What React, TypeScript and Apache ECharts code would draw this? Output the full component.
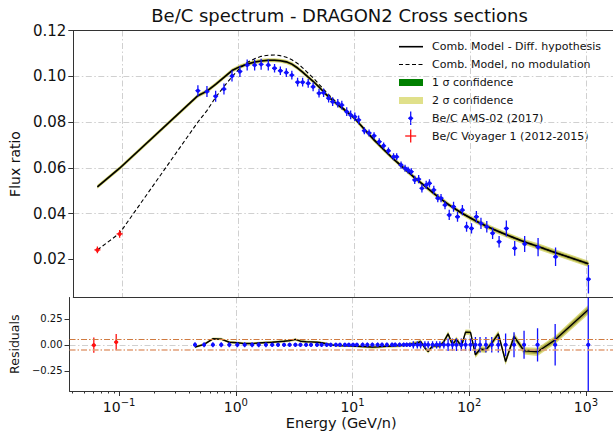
import React, { useEffect, useRef } from 'react';
import * as echarts from 'echarts';

const FONT = 'DejaVu Sans';
const TEXT = '#111111';
const SPINE = '#333333';
const GRID_LINE = '#d0d0d0';
const DASH_DOT = [6, 2.5, 1.5, 2.5];

const TITLE = 'Be/C spectrum - DRAGON2 Cross sections';
const X_NAME = 'Energy (GeV/n)';
const Y_NAME = 'Flux ratio';
const RES_NAME = 'Residuals';

// axis ranges
const ENERGY_RANGE = [0.0376, 1706];
const FLUX_RANGE = [0.0033, 0.12];
const RES_RANGE = [-0.444, 0.455];
const FLUX_TICKS = [0.02, 0.04, 0.06, 0.08, 0.1, 0.12];
const RES_TICKS = [-0.25, 0, 0.25];
const DECADE_EXPONENTS = [-1, 0, 1, 2, 3];
const RES_LIMITS = [0.05, -0.05];

// model curves
const modelE = [0.0607, 0.0944, 0.447, 0.535, 0.636, 0.75, 0.88, 1.03, 1.19, 1.38, 1.57, 1.81, 2.05, 2.3, 2.59, 2.89, 3.24, 3.58, 4.0, 4.41, 4.96, 5.43, 6.0, 7.2, 8.6, 10.1, 12.2, 14.8, 17.9, 21.8, 27.4, 33.2, 41.7, 52.5, 65.9, 85.6, 113, 156, 205, 295, 385, 545, 1047];
const modelDiff = [0.0517, 0.0598, 0.0915, 0.0935, 0.0965, 0.0995, 0.1025, 0.1042, 0.1053, 0.1062, 0.1067, 0.107, 0.107, 0.1068, 0.1063, 0.1053, 0.1036, 0.1018, 0.0996, 0.0978, 0.0953, 0.0932, 0.091, 0.0875, 0.0845, 0.0815, 0.0768, 0.0722, 0.068, 0.0638, 0.0594, 0.0556, 0.0515, 0.0474, 0.0437, 0.04, 0.0366, 0.0332, 0.0307, 0.0276, 0.0256, 0.0229, 0.018];
const modelNoMod = [0.0241, 0.0314, 0.08, 0.085, 0.0908, 0.0955, 0.0998, 0.1035, 0.106, 0.1077, 0.1087, 0.1092, 0.1093, 0.109, 0.1083, 0.1072, 0.1056, 0.1037, 0.1013, 0.0993, 0.0965, 0.0943, 0.092, 0.088, 0.0848, 0.0817, 0.0769, 0.0722, 0.068, 0.0638, 0.0594, 0.0556, 0.0515, 0.0474, 0.0437, 0.04, 0.0366, 0.0332, 0.0307, 0.0276, 0.0256, 0.0229, 0.018];
const modelSigma1 = [0.0005, 0.0005, 0.0005, 0.0005, 0.0005, 0.0005, 0.0005, 0.0005, 0.0005, 0.0005, 0.0005, 0.0005, 0.0005, 0.0005, 0.0005, 0.0005, 0.0005, 0.0005, 0.0005, 0.0005, 0.0005, 0.0005, 0.0005, 0.0005, 0.0005, 0.0005, 0.00055, 0.00055, 0.00055, 0.00055, 0.00055, 0.00055, 0.00055, 0.00055, 0.00055, 0.00055, 0.00065, 0.00065, 0.00065, 0.00065, 0.0008, 0.0008, 0.0008];
const modelSigma2 = [0.0009, 0.0009, 0.0009, 0.0009, 0.0009, 0.0009, 0.0009, 0.0009, 0.0009, 0.0009, 0.0009, 0.0009, 0.0009, 0.0009, 0.0009, 0.0009, 0.0009, 0.0009, 0.0009, 0.0009, 0.0009, 0.0009, 0.0009, 0.0009, 0.0009, 0.0009, 0.001, 0.001, 0.001, 0.001, 0.001, 0.001, 0.001, 0.001, 0.001, 0.001, 0.0012, 0.0012, 0.0012, 0.0012, 0.0014, 0.0014, 0.0014];

// AMS-02 data
const amsE = [0.447, 0.535, 0.636, 0.75, 0.88, 1.03, 1.19, 1.38, 1.57, 1.81, 2.05, 2.3, 2.59, 2.89, 3.24, 3.58, 4.0, 4.41, 4.96, 5.43, 6.0, 6.5, 7.2, 7.8, 8.6, 9.3, 10.1, 10.9, 12.2, 13.4, 14.8, 16.4, 17.9, 19.7, 21.8, 23.2, 25.3, 27.4, 29.1, 31.0, 33.2, 35.9, 38.3, 41.7, 44.5, 48.5, 52.5, 56, 60.6, 65.9, 71.8, 77.7, 85.6, 93, 102.6, 113, 123.8, 139, 156, 177.5, 205, 242, 295, 385, 545, 1047];
const amsRatio = [0.0937, 0.0933, 0.0913, 0.0944, 0.1001, 0.1021, 0.1049, 0.1049, 0.1052, 0.1049, 0.1035, 0.1024, 0.1016, 0.1005, 0.0974, 0.0974, 0.0969, 0.0954, 0.0926, 0.0928, 0.0904, 0.0889, 0.0882, 0.0874, 0.0845, 0.0831, 0.0823, 0.0809, 0.0762, 0.0752, 0.074, 0.0714, 0.0696, 0.0674, 0.0648, 0.0648, 0.0612, 0.0598, 0.059, 0.0583, 0.0547, 0.055, 0.051, 0.0525, 0.0532, 0.0503, 0.0467, 0.0467, 0.0437, 0.0394, 0.043, 0.0386, 0.0415, 0.0342, 0.0335, 0.0386, 0.0357, 0.0342, 0.0314, 0.0277, 0.0335, 0.0248, 0.0267, 0.0253, 0.0211, 0.0113];
const amsErr = [0.0024, 0.0024, 0.0024, 0.0024, 0.0024, 0.0024, 0.0024, 0.0024, 0.0024, 0.0024, 0.0019, 0.0019, 0.0019, 0.0019, 0.0019, 0.0019, 0.0019, 0.0019, 0.0019, 0.0019, 0.0019, 0.0019, 0.0019, 0.0019, 0.0019, 0.0019, 0.0019, 0.0019, 0.0015, 0.0015, 0.0015, 0.0015, 0.0015, 0.0015, 0.0015, 0.0015, 0.0015, 0.0015, 0.0015, 0.0015, 0.0018, 0.0018, 0.0018, 0.0018, 0.0018, 0.0018, 0.0018, 0.0018, 0.0018, 0.0022, 0.0022, 0.0022, 0.0022, 0.0022, 0.0022, 0.0025, 0.0025, 0.0025, 0.0025, 0.0025, 0.0035, 0.0032, 0.0035, 0.004, 0.004, 0.0062];
const amsResidualErr = [0.024, 0.024, 0.024, 0.024, 0.024, 0.024, 0.024, 0.024, 0.024, 0.024, 0.02, 0.02, 0.02, 0.02, 0.02, 0.02, 0.02, 0.02, 0.02, 0.02, 0.02, 0.02, 0.02, 0.02, 0.02, 0.02, 0.02, 0.02, 0.022, 0.022, 0.022, 0.022, 0.022, 0.022, 0.022, 0.022, 0.022, 0.022, 0.022, 0.022, 0.035, 0.035, 0.035, 0.035, 0.035, 0.035, 0.035, 0.035, 0.035, 0.06, 0.06, 0.06, 0.06, 0.06, 0.06, 0.075, 0.075, 0.075, 0.075, 0.075, 0.11, 0.12, 0.135, 0.16, 0.2, 0.55];
const modelResidual = [-0.022, 0.005, 0.058, 0.055, 0.025, 0.02, 0.012, 0.012, 0.018, 0.022, 0.025, 0.03, 0.035, 0.04, 0.052, 0.035, 0.03, 0.028, 0.025, 0.02, 0.01, 0.0, -0.005, -0.008, -0.01, -0.01, -0.012, -0.014, -0.016, -0.018, -0.022, -0.02, -0.016, -0.014, -0.012, -0.01, -0.008, -0.004, 0.0, 0.006, 0.012, 0.016, 0.032, -0.03, -0.064, -0.01, -0.01, -0.01, 0.03, 0.106, 0.0, 0.054, -0.016, 0.122, 0.12, -0.096, -0.042, -0.048, 0.016, 0.106, -0.16, 0.08, -0.058, -0.067, 0.048, 0.337];
const resSigma1 = [0.006, 0.006, 0.006, 0.006, 0.006, 0.006, 0.006, 0.006, 0.006, 0.006, 0.006, 0.006, 0.006, 0.006, 0.006, 0.006, 0.006, 0.006, 0.006, 0.006, 0.006, 0.006, 0.006, 0.006, 0.006, 0.006, 0.006, 0.006, 0.008, 0.008, 0.008, 0.008, 0.008, 0.008, 0.008, 0.008, 0.008, 0.008, 0.008, 0.008, 0.011, 0.011, 0.011, 0.011, 0.011, 0.011, 0.011, 0.011, 0.011, 0.014, 0.014, 0.014, 0.014, 0.014, 0.014, 0.017, 0.017, 0.017, 0.017, 0.017, 0.02, 0.02, 0.02, 0.024, 0.024, 0.028];
const resSigma2 = [0.012, 0.012, 0.012, 0.012, 0.012, 0.012, 0.012, 0.012, 0.012, 0.012, 0.012, 0.012, 0.012, 0.012, 0.012, 0.012, 0.012, 0.012, 0.012, 0.012, 0.012, 0.012, 0.012, 0.012, 0.012, 0.012, 0.012, 0.012, 0.015, 0.015, 0.015, 0.015, 0.015, 0.015, 0.015, 0.015, 0.015, 0.015, 0.015, 0.015, 0.02, 0.02, 0.02, 0.02, 0.02, 0.02, 0.02, 0.02, 0.02, 0.025, 0.025, 0.025, 0.025, 0.025, 0.025, 0.03, 0.03, 0.03, 0.03, 0.03, 0.035, 0.035, 0.035, 0.04, 0.04, 0.045];

// Voyager 1 data
const voyE = [0.0607, 0.0944];
const voyRatio = [0.0241, 0.0311];
const voyErr = [0.0015, 0.0017];
const voyResidual = [-0.003, 0.026];
const voyResidualErr = [0.073, 0.078];

const LEGEND_LABELS = [
  'Comb. Model - Diff. hypothesis',
  'Comb. Model, no modulation',
  '1 σ confidence',
  '2 σ confidence',
  'Be/C AMS-02 (2017)',
  'Be/C Voyager 1 (2012-2015)',
];

const BLUE = '#1010ff';
const RED = '#ff1010';
const BAND2 = 'rgba(190,190,20,0.55)';
const BAND1 = 'rgba(110,110,0,0.45)';
const LEGEND_1S = '#008000';
const LEGEND_2S = '#e0e08a';

const lg = (v: number) => Math.log10(v);

const minorTicks: number[] = [];
[-2, -1, 0, 1, 2, 3].forEach((n) => {
  for (let k = 2; k <= 9; k++) {
    const v = lg(k) + n;
    if (v > lg(ENERGY_RANGE[0]) && v < lg(ENERGY_RANGE[1])) minorTicks.push(v);
  }
});

const errorBarRenderer = (color: string, capHalf: number, dotR: number) => (params: any, api: any) => {
  const x = api.value(0);
  const y = api.value(1);
  const e = api.value(2);
  const c = api.coord([x, y]);
  const hi = api.coord([x, y + e]);
  const lo = api.coord([x, y - e]);
  return {
    type: 'group',
    children: [
      { type: 'line', shape: { x1: c[0], y1: hi[1], x2: c[0], y2: lo[1] }, style: { stroke: color, lineWidth: 1.3 } },
      { type: 'line', shape: { x1: c[0] - capHalf, y1: c[1], x2: c[0] + capHalf, y2: c[1] }, style: { stroke: color, lineWidth: 1.3 } },
      { type: 'circle', shape: { cx: c[0], cy: c[1], r: dotR }, style: { fill: color } },
    ],
  };
};

const bandRenderer = (xs: number[], center: number[], half: number[], fill: string) => (params: any, api: any) => {
  const upper = xs.map((x, i) => api.coord([x, center[i] + half[i]]));
  const lower = xs.map((x, i) => api.coord([x, center[i] - half[i]])).reverse();
  return { type: 'polygon', shape: { points: upper.concat(lower) }, style: { fill } };
};

export default function App() {
  const ref = useRef<HTMLDivElement>(null);

  useEffect(() => {
    if (!ref.current) return;
    const chart = echarts.init(ref.current, undefined, { renderer: 'svg' });

    const lmE = modelE.map(lg);
    const laE = amsE.map(lg);
    const lvE = voyE.map(lg);
    const xMin = lg(ENERGY_RANGE[0]);
    const xMax = lg(ENERGY_RANGE[1]);

    const splitLine = { show: true, showMinLine: false, showMaxLine: false, lineStyle: { color: GRID_LINE, width: 1, type: DASH_DOT } };
    const labelStyle = { fontFamily: FONT, color: TEXT };
    const spine = { show: true, onZero: false, lineStyle: { color: SPINE, width: 1 } };

    const xBase = {
      type: 'value',
      min: xMin,
      max: xMax,
      minInterval: 1,
      maxInterval: 1,
    };

    const option: any = {
      animation: false,
      backgroundColor: '#ffffff',
      title: {
        text: TITLE,
        left: 339.5,
        top: 6,
        textAlign: 'center',
        padding: 0,
        textStyle: { fontFamily: FONT, fontSize: 18, fontWeight: 'normal', color: TEXT },
      },
      grid: [
        { left: 66.5, top: 30.5, width: 549.5, height: 267, containLabel: false },
        { left: 66.5, top: 297.5, width: 549.5, height: 93.5, containLabel: false },
      ],
      xAxis: [
        {
          ...xBase,
          gridIndex: 0,
          position: 'bottom',
          axisLine: spine,
          axisTick: { show: false },
          axisLabel: { show: false },
          splitLine,
        },
        {
          ...xBase,
          gridIndex: 1,
          position: 'bottom',
          axisLine: spine,
          axisTick: { show: true, length: 5, customValues: DECADE_EXPONENTS, lineStyle: { color: SPINE } },
          axisLabel: {
            show: true,
            customValues: DECADE_EXPONENTS,
            margin: 6,
            formatter: (v: number) => {
              const n = Math.round(v);
              const s = n < 0 ? '\u2212' + Math.abs(n) : String(n);
              return `{b|10}{e|${s}}`;
            },
            rich: {
              b: { fontFamily: FONT, fontSize: 14, color: TEXT },
              e: { fontFamily: FONT, fontSize: 10, color: TEXT, padding: [0, 0, 9, 0] },
            },
          },
          splitLine,
          name: X_NAME,
          nameLocation: 'middle',
          nameGap: 24,
          nameTextStyle: { fontFamily: FONT, fontSize: 14.5, color: TEXT },
        },
        {
          ...xBase,
          gridIndex: 0,
          position: 'top',
          axisLine: spine,
          axisTick: { show: false },
          axisLabel: { show: false },
          splitLine: { show: false },
        },
        {
          ...xBase,
          gridIndex: 1,
          position: 'bottom',
          axisLine: { show: false, onZero: false },
          axisTick: { show: true, length: 2.5, customValues: minorTicks, lineStyle: { color: SPINE } },
          axisLabel: { show: false },
          splitLine: { show: false },
        },
      ],
      yAxis: [
        {
          type: 'value',
          gridIndex: 0,
          min: FLUX_RANGE[0],
          max: FLUX_RANGE[1],
          minInterval: 0.02,
          maxInterval: 0.02,
          axisLine: spine,
          axisTick: { show: true, length: 5, customValues: FLUX_TICKS, lineStyle: { color: SPINE } },
          axisLabel: {
            show: true,
            customValues: FLUX_TICKS,
            margin: 7,
            formatter: (v: number) => v.toFixed(2),
            fontSize: 15,
            ...labelStyle,
          },
          splitLine,
          name: Y_NAME,
          nameLocation: 'middle',
          nameGap: 44,
          nameTextStyle: { fontFamily: FONT, fontSize: 14, color: TEXT },
        },
        {
          type: 'value',
          gridIndex: 1,
          min: RES_RANGE[0],
          max: RES_RANGE[1],
          minInterval: 0.25,
          maxInterval: 0.25,
          axisLine: spine,
          axisTick: { show: true, length: 5, customValues: RES_TICKS, lineStyle: { color: SPINE } },
          axisLabel: {
            show: true,
            customValues: RES_TICKS,
            margin: 7,
            formatter: (v: number) => (v < 0 ? '\u2212' : '') + Math.abs(v).toFixed(2),
            fontSize: 10,
            ...labelStyle,
          },
          splitLine,
          name: RES_NAME,
          nameLocation: 'middle',
          nameGap: 43,
          nameTextStyle: { fontFamily: FONT, fontSize: 12.5, color: TEXT },
        },
      ],
      series: [
        {
          type: 'custom', name: '2 sigma', xAxisIndex: 0, yAxisIndex: 0, clip: true, z: 1,
          data: [[lmE[0], modelDiff[0]]], encode: { x: 0, y: 1 },
          renderItem: bandRenderer(lmE, modelDiff, modelSigma2, BAND2),
        },
        {
          type: 'custom', name: '1 sigma', xAxisIndex: 0, yAxisIndex: 0, clip: true, z: 1,
          data: [[lmE[0], modelDiff[0]]], encode: { x: 0, y: 1 },
          renderItem: bandRenderer(lmE, modelDiff, modelSigma1, BAND1),
        },
        {
          type: 'line', name: LEGEND_LABELS[0], xAxisIndex: 0, yAxisIndex: 0, z: 3,
          data: lmE.map((x, i) => [x, modelDiff[i]]), showSymbol: false, symbol: 'none',
          lineStyle: { color: '#000', width: 1.6 },
        },
        {
          type: 'line', name: LEGEND_LABELS[1], xAxisIndex: 0, yAxisIndex: 0, z: 3,
          data: lmE.map((x, i) => [x, modelNoMod[i]]), showSymbol: false, symbol: 'none',
          lineStyle: { color: '#000', width: 1.1, type: [4, 2.5] },
        },
        {
          type: 'custom', name: LEGEND_LABELS[4], xAxisIndex: 0, yAxisIndex: 0, clip: true, z: 4,
          data: laE.map((x, i) => [x, amsRatio[i], amsErr[i]]), encode: { x: 0, y: 1 },
          renderItem: errorBarRenderer(BLUE, 2.5, 2),
        },
        {
          type: 'custom', name: LEGEND_LABELS[5], xAxisIndex: 0, yAxisIndex: 0, clip: true, z: 4,
          data: lvE.map((x, i) => [x, voyRatio[i], voyErr[i]]), encode: { x: 0, y: 1 },
          renderItem: errorBarRenderer(RED, 3, 2),
        },
        {
          type: 'custom', name: 'res 2 sigma', xAxisIndex: 1, yAxisIndex: 1, clip: true, z: 1,
          data: [[laE[0], modelResidual[0]]], encode: { x: 0, y: 1 },
          renderItem: bandRenderer(laE, modelResidual, resSigma2, BAND2),
        },
        {
          type: 'custom', name: 'res 1 sigma', xAxisIndex: 1, yAxisIndex: 1, clip: true, z: 1,
          data: [[laE[0], modelResidual[0]]], encode: { x: 0, y: 1 },
          renderItem: bandRenderer(laE, modelResidual, resSigma1, BAND1),
        },
        {
          type: 'line', name: 'residual model', xAxisIndex: 1, yAxisIndex: 1, z: 3,
          data: laE.map((x, i) => [x, modelResidual[i]]), showSymbol: false, symbol: 'none',
          lineStyle: { color: '#000', width: 1.4 },
          markLine: {
            silent: true, symbol: 'none', label: { show: false }, animation: false,
            data: [
              { yAxis: RES_LIMITS[0], lineStyle: { color: '#cf7a40', width: 1, type: [6, 2, 1.5, 2] } },
              { yAxis: RES_LIMITS[1], lineStyle: { color: '#e2a07a', width: 1.6, type: [6, 2, 1.5, 2] } },
            ],
          },
        },
        {
          type: 'custom', name: 'AMS residual', xAxisIndex: 1, yAxisIndex: 1, clip: true, z: 4,
          data: laE.map((x, i) => [x, 0, amsResidualErr[i]]), encode: { x: 0, y: 1 },
          renderItem: errorBarRenderer(BLUE, 2, 2),
        },
        {
          type: 'custom', name: 'Voyager residual', xAxisIndex: 1, yAxisIndex: 1, clip: true, z: 4,
          data: lvE.map((x, i) => [x, voyResidual[i], voyResidualErr[i]]), encode: { x: 0, y: 1 },
          renderItem: errorBarRenderer(RED, 2, 2),
        },
      ],
      graphic: [
        { type: 'line', shape: { x1: 399, y1: 46.7, x2: 423, y2: 46.7 }, style: { stroke: '#000', lineWidth: 1.6 } },
        { type: 'line', shape: { x1: 399, y1: 64.5, x2: 423, y2: 64.5 }, style: { stroke: '#000', lineWidth: 1.1, lineDash: [4, 2.5] } },
        { type: 'rect', shape: { x: 399, y: 79, width: 24, height: 7 }, style: { fill: LEGEND_1S } },
        { type: 'rect', shape: { x: 399, y: 97, width: 24, height: 7 }, style: { fill: LEGEND_2S } },
        { type: 'line', shape: { x1: 410.7, y1: 111.5, x2: 410.7, y2: 125 }, style: { stroke: BLUE, lineWidth: 1.3 } },
        { type: 'line', shape: { x1: 408.2, y1: 118.3, x2: 413.2, y2: 118.3 }, style: { stroke: BLUE, lineWidth: 1.3 } },
        { type: 'circle', shape: { cx: 410.7, cy: 118.3, r: 2 }, style: { fill: BLUE } },
        { type: 'line', shape: { x1: 410.7, y1: 129.5, x2: 410.7, y2: 142.5 }, style: { stroke: RED, lineWidth: 1.3 } },
        { type: 'line', shape: { x1: 405.2, y1: 136, x2: 416.2, y2: 136 }, style: { stroke: RED, lineWidth: 1.3 } },
        ...LEGEND_LABELS.map((t, i) => ({
          type: 'text',
          x: 432,
          y: [46.7, 64.5, 82.5, 100.3, 118.3, 136][i],
          style: { text: t, fontFamily: FONT, fontSize: 11, fill: TEXT, textVerticalAlign: 'middle', verticalAlign: 'middle' },
        })),
      ],
    };

    chart.setOption(option);
    return () => chart.dispose();
  }, []);

  return (
    <div
      ref={ref}
      style={{ position: 'fixed', left: 0, top: 0, width: 613, height: 433, background: '#fff' }}
    />
  );
}
